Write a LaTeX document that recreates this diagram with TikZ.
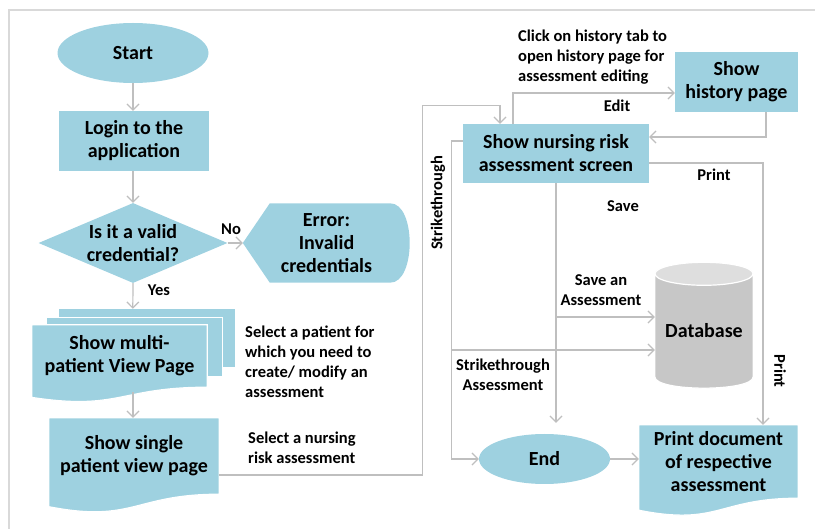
\documentclass[tikz,border=0pt]{standalone}
\usepackage{fontspec}
\setmainfont{Carlito}
\usetikzlibrary{positioning, arrows.meta, shapes.geometric, calc, backgrounds}

\definecolor{boxblue}{RGB}{158,209,224}
\definecolor{linegray}{RGB}{191,191,191}
\definecolor{framegray}{RGB}{217,217,217}
\definecolor{dbbody}{RGB}{199,199,199}
\definecolor{dbtop}{RGB}{222,222,222}

\tikzset{
  boxtext/.style={font=\fontsize{20}{23}\selectfont\bfseries, align=center, inner sep=0pt},
  startstop/.style={boxtext, ellipse, fill=boxblue},
  process/.style={boxtext, rectangle, fill=boxblue},
  decision/.style={boxtext, diamond, aspect=2.36, inner sep=-4pt, fill=boxblue},
  docbox/.style={boxtext, rectangle},
  note/.style={font=\fontsize{16.5}{20}\selectfont\bfseries, inner sep=0pt},
  arr/.style={draw=linegray, line width=1.2pt, -{Straight Barb[length=6pt,width=12pt]}},
  docfill/.style={fill=boxblue, draw=white, line width=1.2pt},
}

% wavy bottom of a document node
\newcommand{\docshape}[3]{%
  \path[docfill] (#1.north west) -- (#1.north east) -- (#1.south east)
    .. controls (#1.south) and ($(#1.south)+(0,#2)$) .. ($(#1.south west)+(0,#3)$) -- cycle;}

\begin{document}
\begin{tikzpicture}[x=1pt, y=-1pt]
    \useasboundingbox (0,0) rectangle (815,529);
    % Frame
    \draw[framegray, line width=1.2pt] (9,529) -- (9,10) -- (815,10);

    % Left column
    \node[startstop, minimum width=151pt, minimum height=60pt] (start) at (133,53) {Start};
    \node[process, minimum width=150pt, minimum height=60pt] (login) at (134,141) {Login to the\\application};
    \node[decision, minimum width=189pt, minimum height=80pt] (valid) at (133,243) {Is it a valid\\credential?};
    \node[docbox, minimum width=167pt, minimum height=79pt] (err) at (326.5,243) {Error:\\Invalid\\credentials};
    \node[docbox, minimum width=175pt, minimum height=62pt] (multi) at (119.5,356) {Show multi-\\patient View Page};
    \node[docbox, minimum width=170pt, minimum height=76pt] (single) at (134,456) {Show single\\patient view page};
    \coordinate (multitop) at ($(multi.north west)+(101,-16)$);

    % Right part
    \node[process, minimum width=186pt, minimum height=59pt] (nursing) at (556,153.5) {Show nursing risk\\assessment screen};
    \node[process, minimum width=123pt, minimum height=60pt] (history) at (736.5,82) {Show\\history page};
    \node[docbox, minimum width=98pt, minimum height=114pt] (db) at (704,331) {Database};
    \node[startstop, minimum width=131pt, minimum height=50pt] (stop) at (544.5,459) {End};
    \node[docbox, minimum width=159pt, minimum height=73pt] (printdoc) at (718.5,461.5) {Print document\\of respective\\assessment};

    % Shapes behind the texts
    \begin{scope}[on background layer]
        \path[docfill] ($(multi.north west)+(27,-16)$) rectangle ($(multi.north east)+(28,43)$);
        \path[docfill] ($(multi.north west)+(15,-7)$) rectangle ($(multi.north east)+(15,52)$);
        \docshape{multi}{23.6}{10.2}
        \docshape{single}{29}{12.5}
        \docshape{printdoc}{28}{12}
        % Display shape
        \path[fill=boxblue] ($(err.north west)+(27,0)$) -- ($(err.north east)+(-20,0)$)
            .. controls ($(err.north east)+(6,0)$) and ($(err.south east)+(6,0)$) .. ($(err.south east)+(-20,0)$)
            -- ($(err.south west)+(27,0)$) -- (err.west) -- cycle;
        % Cylinder
        \path[fill=dbbody, draw=white, line width=1.2pt] (db.north west) -- ($(db.south west)+(0,-11.5)$)
            .. controls ($(db.south west)+(0,3.8)$) and ($(db.south east)+(0,3.8)$) .. ($(db.south east)+(0,-11.5)$)
            -- (db.north east) -- cycle;
        \path[fill=dbtop, draw=white, line width=1.2pt] (db.north) ellipse [x radius=49pt, y radius=11.5pt];
    \end{scope}

    % Left flow
    \draw[arr] (start.south) -- (start.south |- login.north);
    \draw[arr] (valid.north |- login.south) -- (valid.north);
    \draw[arr] (valid.east) -- (err.west);
    \node[note] (nolbl) at (231,229) {No};
    \draw[arr] (valid.south) -- (multitop);
    \node[note] (yeslbl) at (159,290) {Yes};
    \draw[arr] ([yshift=-5pt]valid.south |- multi.south) -- (valid.south |- single.north);
    \node[note, anchor=west, align=left] (patientnote) at (245,362) {Select a patient for\\which you need to\\create/ modify an\\assessment};
    \node[note, anchor=west, align=left] (risknote) at (248,448) {Select a nursing\\risk assessment};
    \draw[arr] ([yshift=-19pt]single.east) -- ++(203,0) |- ([xshift=-56pt, yshift=18pt]nursing.north) -- ([xshift=-56pt]nursing.north);

    % Edit loop
    \draw[arr] ([xshift=-43pt]nursing.north) |- ([yshift=-11pt]history.west);
    \draw[arr] ([xshift=29.5pt]history.south) |- ([yshift=16.5pt]nursing.east);
    \node[note, anchor=west, align=left] (historynote) at (518,57) {Click on history tab to\\open history page for\\assessment editing};
    \node[note] (editlbl) at (617,106) {Edit};

    % Print
    \draw[arr] ([yshift=-9.5pt]nursing.east) -| ([xshift=44.5pt]printdoc.north);
    \node[note] (printlbl) at (714,175) {Print};
    \node[note, rotate=-90] (printside) at (780,371) {Print};

    % Save
    \draw[arr, shorten >=11pt] (nursing.south) -- (nursing.south |- stop.north);
    \draw[arr] (nursing.south) |- ([yshift=14pt]db.west);
    \node[note] (savelbl) at (623,206) {Save};
    \node[note, align=center] (savenote) at (601,290) {Save an\\Assessment};

    % Strikethrough
    \draw[arr] ([yshift=12.5pt]nursing.west) -- ++(-11,0) |- (stop.west);
    \draw[arr] ([yshift=12.5pt]nursing.west) -- ++(-11,0) |- ([yshift=-19pt]db.west);
    \node[note, rotate=90] (strikeside) at (438,203) {Strikethrough};
    \node[note, align=center] (strikenote) at (503,375) {Strikethrough\\Assessment};

    \draw[arr] (stop.east) -- (stop.east -| printdoc.west);
\end{tikzpicture}
\end{document}
